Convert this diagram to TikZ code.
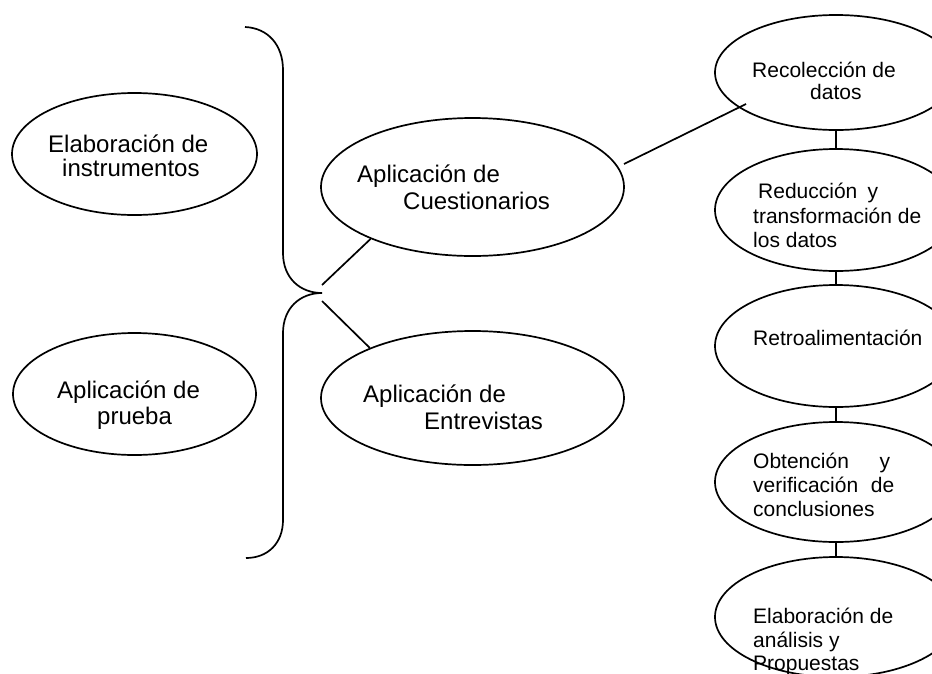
\documentclass[tikz,border=0pt]{standalone}
\usepackage{fontspec}
\setmainfont{Liberation Sans}
\usetikzlibrary{shapes.geometric}
\tikzset{
  oval/.style={draw, ellipse, inner sep=0pt, line width=1.7pt},
  big/.style={anchor=base west, inner sep=0pt, font=\fontsize{24}{28}\selectfont},
  small/.style={anchor=base west, inner sep=0pt, font=\fontsize{21}{25}\selectfont},
  link/.style={line width=1.7pt},
}
\begin{document}
\begin{tikzpicture}[x=1pt,y=-1pt]
\useasboundingbox (0,0) rectangle (932,673);
\clip (0,0) rectangle (932,673);
\fill[white] (0,0) rectangle (932,673);

% left ellipses
\node[oval, minimum width=245pt, minimum height=122pt] (elab) at (134.5,154) {};
\node[big] (elab1) at (48,152) {Elaboración de};
\node[big] (elab2) at (62,176) {instrumentos};

\node[oval, minimum width=243pt, minimum height=122pt] (prueba) at (134.5,394) {};
\node[big] (prueba1) at (57,398) {Aplicación de};
\node[big] (prueba2) at (97,424) {prueba};

% brace
\draw[link] (245,27) .. controls (268,28) and (283,45) .. (283,70) -- (283,253)
  .. controls (283,278) and (300,293) .. (322,293)
  .. controls (300,293) and (283,308) .. (283,333) -- (283,520)
  .. controls (283,543) and (268,558) .. (246,558);
\coordinate (b1) at (322,285);
\coordinate (b2) at (322,301);

% middle ellipses
\node[oval, minimum width=303pt, minimum height=138pt] (cuest) at (472.5,187) {};
\node[big] (cuest1) at (357,182) {Aplicación de};
\node[big] (cuest2) at (403,209) {Cuestionarios};

\node[oval, minimum width=303pt, minimum height=134pt] (entrev) at (472.5,398) {};
\node[big] (entrev1) at (363,402) {Aplicación de};
\node[big] (entrev2) at (424,429) {Entrevistas};

\draw[link] (b1) -- (cuest.207);
\draw[link] (b2) -- (entrev.154);

% right column
\node[oval, minimum width=242pt, minimum height=115pt] (r1) at (836,72.5) {};
\node[small] (r1a) at (752,77) {Recolección de};
\node[small] (r1b) at (810,99) {datos};

\node[oval, minimum width=242pt, minimum height=122pt] (r2) at (836,210) {};
\node[small] (r2a) at (758,198) {\makebox[120pt][l]{Reducción\hfill y}};
\node[small] (r2b) at (753,223) {transformación de};
\node[small] (r2c) at (753,247) {los datos};

\node[oval, minimum width=242pt, minimum height=122pt] (r3) at (836,346) {};
\node[small] (r3a) at (753,345) {Retroalimentación};

\node[oval, minimum width=242pt, minimum height=120pt] (r4) at (836,482) {};
\node[small] (r4a) at (753,468) {\makebox[137pt][l]{Obtención\hfill y}};
\node[small] (r4b) at (753,492) {\makebox[141pt][l]{verificación\hfill de}};
\node[small] (r4c) at (753,516) {conclusiones};

\node[oval, minimum width=242pt, minimum height=120pt] (r5) at (836,617) {};
\node[small] (r5a) at (753,623) {Elaboración de};
\node[small] (r5b) at (753,647) {análisis y};
\node[small] (r5c) at (753,670) {Propuestas};

\draw[link] (r1.south) -- (r2.north);
\draw[link] (r2.south) -- (r3.north);
\draw[link] (r3.south) -- (r4.north);
\draw[link] (r4.south) -- (r5.north);

\coordinate (cq) at (624,164);
\coordinate (rin) at (746,104);
\draw[link] (cq) -- (rin);
\end{tikzpicture}
\end{document}
